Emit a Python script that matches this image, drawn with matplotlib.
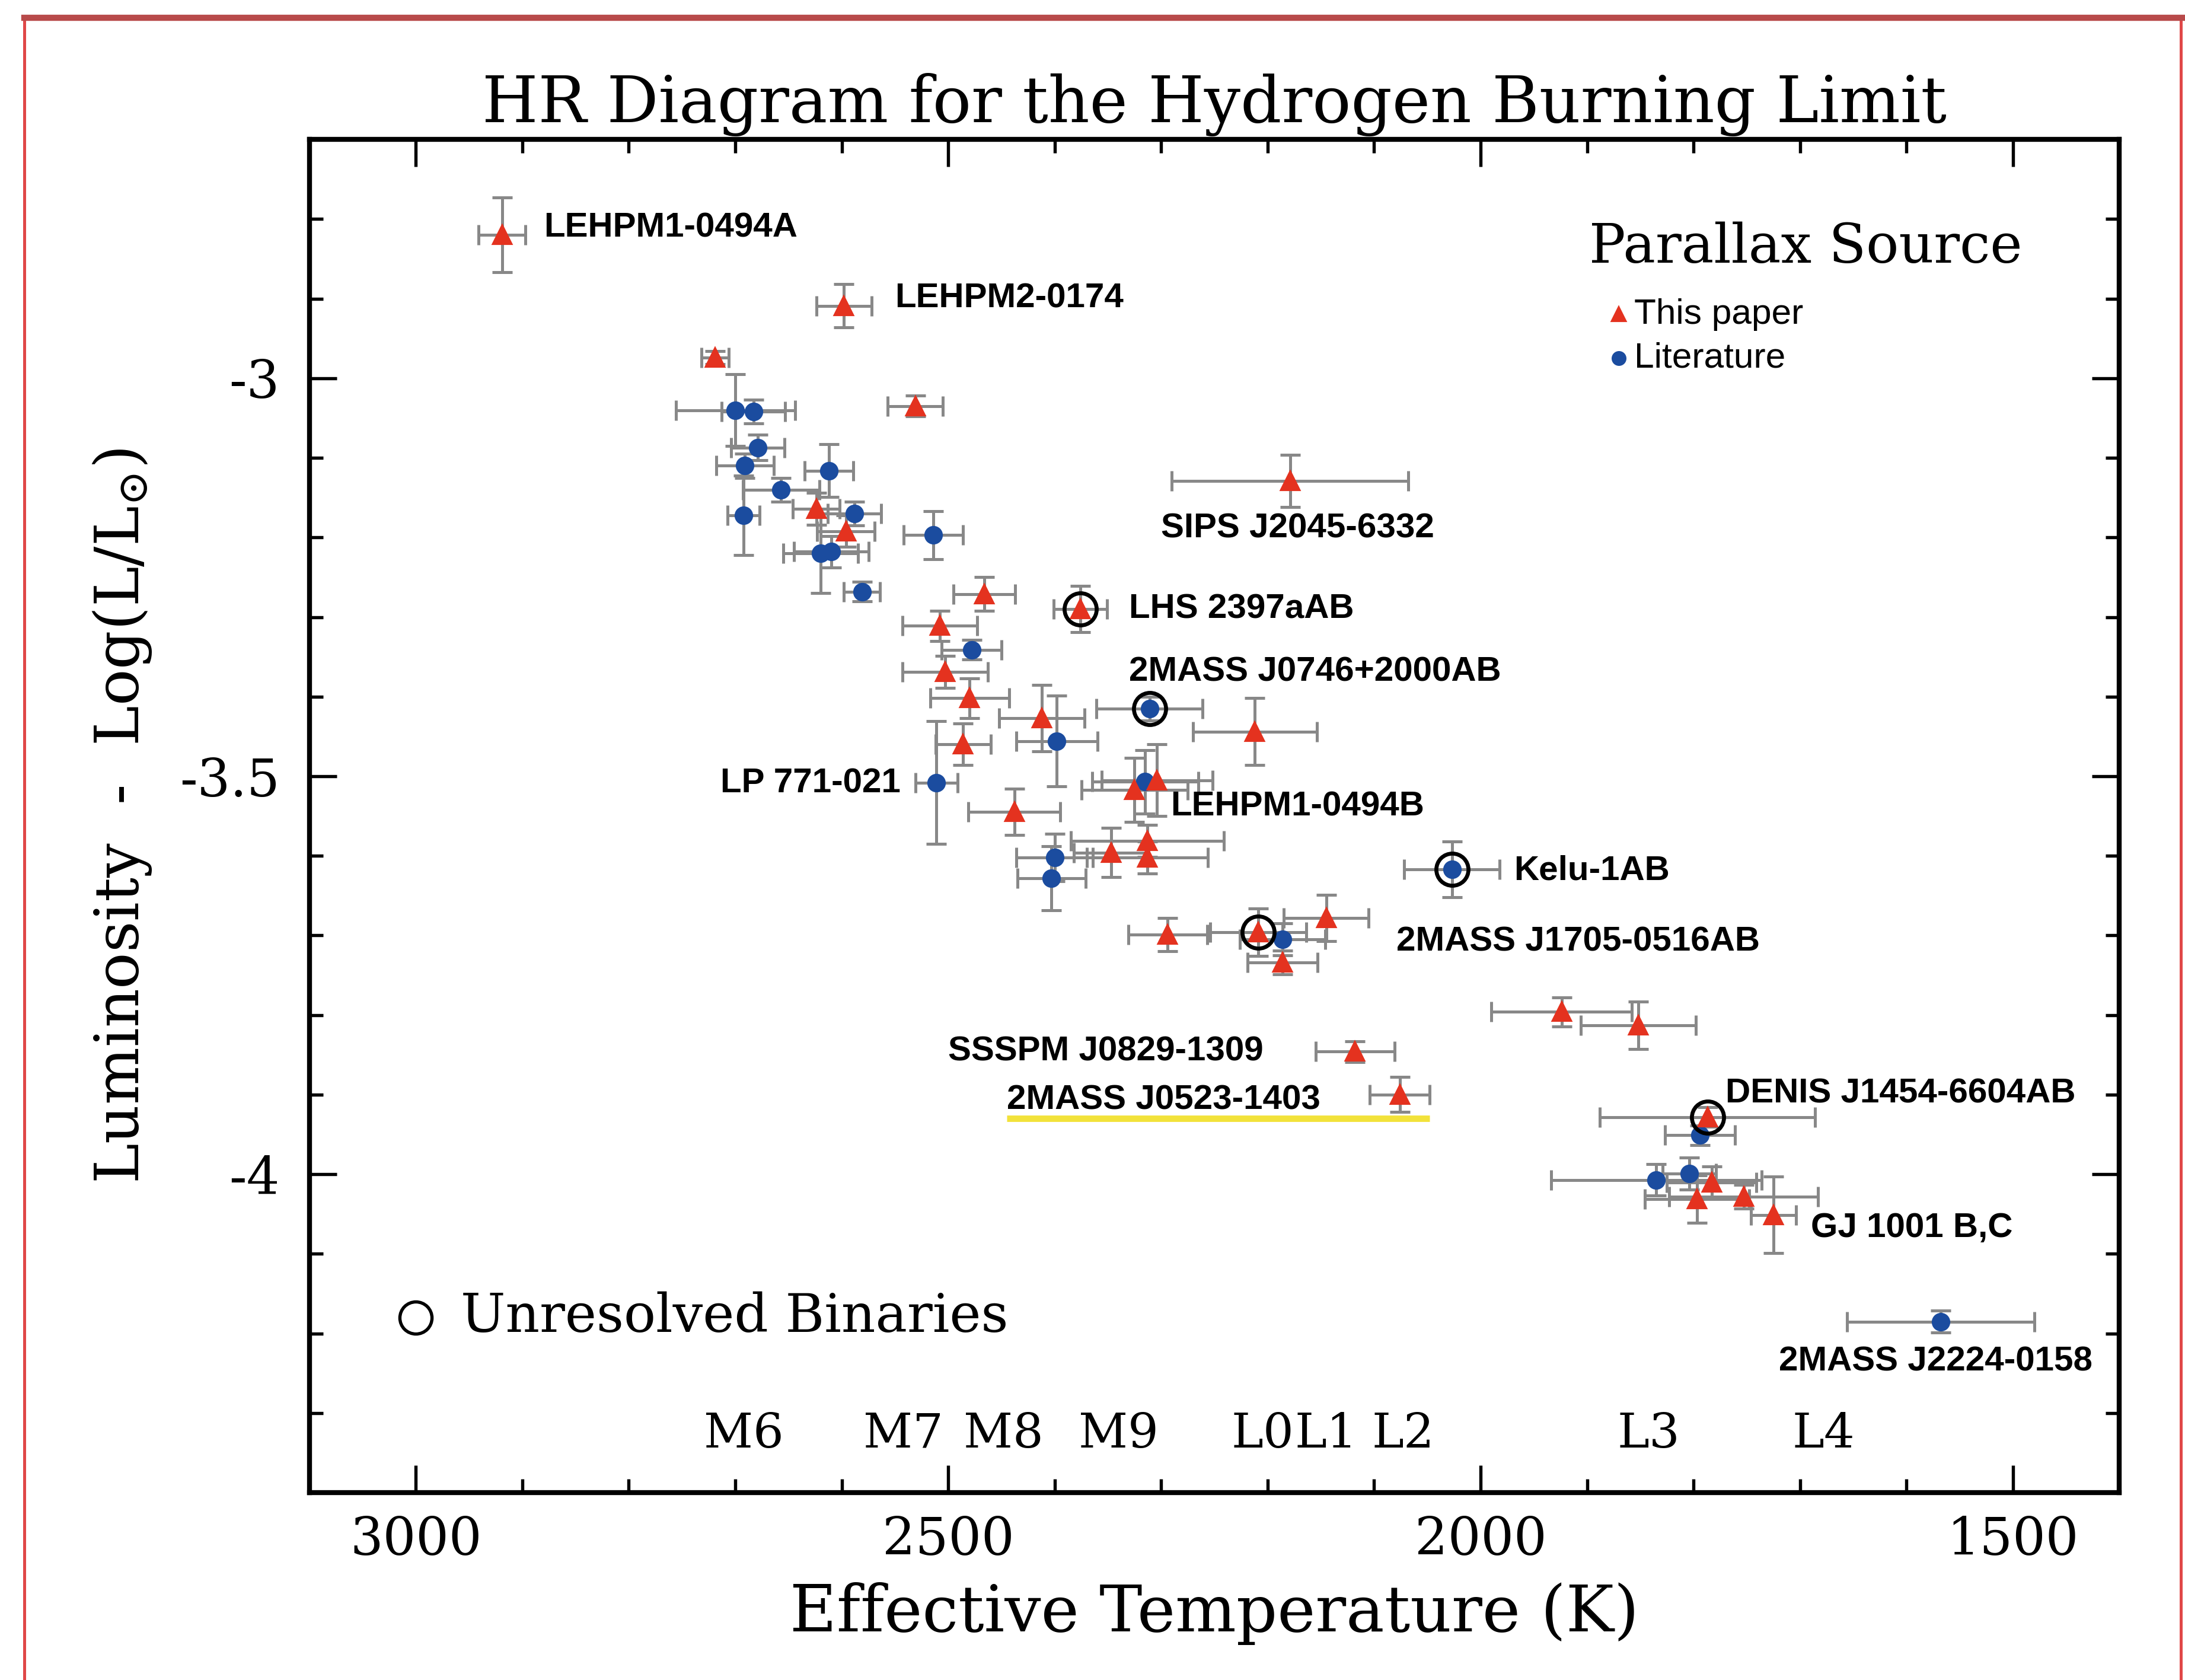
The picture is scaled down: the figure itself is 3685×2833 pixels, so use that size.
import numpy as np
import matplotlib
matplotlib.use("Agg")
import matplotlib.pyplot as plt
from matplotlib.ticker import MultipleLocator, FuncFormatter
from matplotlib.patches import Rectangle
from matplotlib.lines import Line2D

plt.rcParams['font.family'] = 'DejaVu Serif'
plt.rcParams['mathtext.fontset'] = 'dejavuserif'
plt.rcParams['axes.unicode_minus'] = False

# Parallax from this paper (red triangles)
paper_T = [2919, 2598, 2719, 2531, 2179, 2624, 2596, 2376, 2466, 2508, 2503, 2480,
           2412, 2486, 2212, 2304, 2325, 2438, 2347, 2313, 2313, 2294, 2209, 2145,
           2186, 1924, 1852, 2118, 2076, 1787, 1783, 1797, 1753, 1725]
paper_L = [-2.820, -2.909, -2.974, -3.035, -3.129, -3.164, -3.192, -3.290, -3.271,
           -3.311, -3.369, -3.402, -3.427, -3.460, -3.444, -3.505, -3.517, -3.545,
           -3.596, -3.581, -3.602, -3.699, -3.696, -3.678, -3.734, -3.796, -3.813,
           -3.846, -3.900, -3.928, -4.010, -4.031, -4.028, -4.051]
paper_eT = [22, 26, 13, 26, 111, 22, 27, 25, 29, 35, 40, 37, 40, 26, 58, 52, 50, 43,
            35, 72, 57, 37, 45, 40, 33, 66, 54, 37, 28, 101, 42, 49, 70, 21]
paper_eL = [0.047, 0.027, 0.008, 0.013, 0.033, 0.020, 0.020, 0.029, 0.021, 0.019,
            0.020, 0.025, 0.042, 0.026, 0.042, 0.045, 0.040, 0.029, 0.031, 0.020,
            0.020, 0.021, 0.030, 0.029, 0.015, 0.018, 0.030, 0.013, 0.022, 0.012,
            0.020, 0.030, 0.015, 0.048]

# Parallax from the literature (blue circles)
lit_T = [2700, 2683, 2679, 2691, 2657, 2612, 2692, 2588, 2514, 2620, 2610, 2581, 2478,
         2311, 2398, 2511, 2315, 2400, 2403, 2027, 2186, 1794, 1835, 1804, 1568]
lit_L = [-3.040, -3.042, -3.087, -3.110, -3.140, -3.116, -3.172, -3.170, -3.197, -3.220,
         -3.218, -3.268, -3.341, -3.415, -3.456, -3.508, -3.507, -3.602, -3.628, -3.617,
         -3.705, -3.951, -4.007, -3.999, -4.185]
lit_eT = [56, 30, 25, 27, 36, 23, 15, 25, 28, 35, 35, 17, 28, 50, 38, 20, 50, 36, 32,
          45, 40, 33, 99, 25, 88]
lit_eL = [0.045, 0.015, 0.016, 0.015, 0.015, 0.033, 0.050, 0.015, 0.030, 0.050, 0.020,
          0.012, 0.012, 0.015, 0.057, 0.077, 0.040, 0.030, 0.040, 0.035, 0.020, 0.012,
          0.020, 0.020, 0.014]

# unresolved binaries (index into each list)
binary_paper = [7, 22, 29]
binary_lit = [13, 19]

# object names
names = ['LEHPM1-0494A', 'LEHPM2-0174', 'SIPS J2045-6332', 'LHS 2397aAB',
         '2MASS J0746+2000AB', 'LP 771-021', 'LEHPM1-0494B', 'Kelu-1AB',
         '2MASS J1705-0516AB', 'SSSPM J0829-1309', '2MASS J0523-1403',
         'DENIS J1454-6604AB', 'GJ 1001 B,C', '2MASS J2224-0158']
name_T = [2880, 2550, 2300, 2330, 2330, 2545, 2291, 1969, 2079, 2500, 2445, 1770, 1690, 1720]
name_L = [-2.811, -2.900, -3.189, -3.290, -3.369, -3.509, -3.538, -3.619, -3.708,
          -3.846, -3.907, -3.899, -4.068, -4.236]
name_ha = ['left'] * 5 + ['right'] + ['left'] * 8

# spectral types along the bottom
spt = ['M6', 'M7', 'M8', 'M9', 'L0', 'L1', 'L2', 'L3', 'L4']
spt_T = [2692, 2542, 2448, 2340, 2205, 2145, 2073, 1842, 1678]

red = '#e4321f'
blue = '#1b4c9f'
grey = '#888888'
label_font = ['Liberation Sans', 'DejaVu Sans']

fig = plt.figure(figsize=(3685 / 300, 2833 / 300), dpi=300)
ax = fig.add_axes([0.1416, 0.1115, 0.8284, 0.8055])

ax.errorbar(paper_T, paper_L, xerr=paper_eT, yerr=paper_eL, fmt='none', ecolor=grey,
            elinewidth=1.2, capsize=4, capthick=1.2, zorder=2)
ax.errorbar(lit_T, lit_L, xerr=lit_eT, yerr=lit_eL, fmt='none', ecolor=grey,
            elinewidth=1.2, capsize=4, capthick=1.2, zorder=2)
ax.plot(lit_T, lit_L, 'o', color=blue, ms=6.5, mec=blue, zorder=3)
ax.plot(paper_T, paper_L, '^', color=red, ms=7, mec=red, zorder=4)

# circles around unresolved binaries
bT = [paper_T[i] for i in binary_paper] + [lit_T[i] for i in binary_lit]
bL = [paper_L[i] for i in binary_paper] + [lit_L[i] for i in binary_lit]
ax.plot(bT, bL, 'o', mfc='none', mec='black', mew=1.6, ms=13, zorder=5)

for n, t, l, ha in zip(names, name_T, name_L, name_ha):
    ax.text(t, l, n, ha=ha, va='center', fontsize=14, fontweight='bold',
            family=label_font, zorder=6)

# highlight under 2MASS J0523-1403
ax.plot([2445, 2048], [-3.930, -3.930], color='#f2e23a', lw=2.6, solid_capstyle='butt', zorder=1)

for s, t in zip(spt, spt_T):
    ax.text(t, -4.327, s, ha='center', va='center', fontsize=19.5)

# legend box
ax.text(1898, -2.836, 'Parallax Source', ha='left', va='center', fontsize=22)
ax.plot([1870], [-2.92], '^', color=red, ms=5.5)
ax.plot([1870], [-2.975], 'o', color=blue, ms=5)
ax.text(1856, -2.92, 'This paper', ha='left', va='center', fontsize=14.5, family=label_font)
ax.text(1856, -2.975, 'Literature', ha='left', va='center', fontsize=14.5, family=label_font)

ax.plot([3000], [-4.18], 'o', mfc='none', mec='black', mew=1.3, ms=13)
ax.text(2958, -4.18, 'Unresolved Binaries', ha='left', va='center', fontsize=21.5)

ax.set_xlim(3100, 1400)
ax.set_ylim(-4.4, -2.7)
ax.xaxis.set_major_locator(MultipleLocator(500))
ax.xaxis.set_minor_locator(MultipleLocator(100))
ax.yaxis.set_major_locator(MultipleLocator(0.5))
ax.yaxis.set_minor_locator(MultipleLocator(0.1))
ax.yaxis.set_major_formatter(FuncFormatter(lambda v, p: '%g' % v))
ax.tick_params(which='both', direction='in', top=True, right=True, width=1.3)
ax.tick_params(which='major', length=11, labelsize=21)
ax.tick_params(which='minor', length=5.5)
ax.tick_params(axis='x', pad=9)
ax.tick_params(axis='y', pad=12)
for sp in ax.spines.values():
    sp.set_linewidth(2.0)

ax.set_title('HR Diagram for the Hydrogen Burning Limit', fontsize=26, pad=7)
ax.set_xlabel('Effective Temperature (K)', fontsize=26)
ax.set_ylabel(r'Luminosity  -  Log(L/L$_{\odot}$)', fontsize=24.5)
ax.xaxis.set_label_coords(0.5, -0.066)
ax.yaxis.set_label_coords(-0.086, 0.5)

# red frame of the original image
fig.add_artist(Rectangle((0.011, -0.01), 0.987, 0.9994, transform=fig.transFigure,
                         fill=False, edgecolor='#e04848', lw=1.2))
fig.add_artist(Line2D([0.011, 1.0], [0.9894, 0.9894], transform=fig.transFigure,
                      color='#b84a4a', lw=2.5))

fig.savefig('out.png', dpi=300)
